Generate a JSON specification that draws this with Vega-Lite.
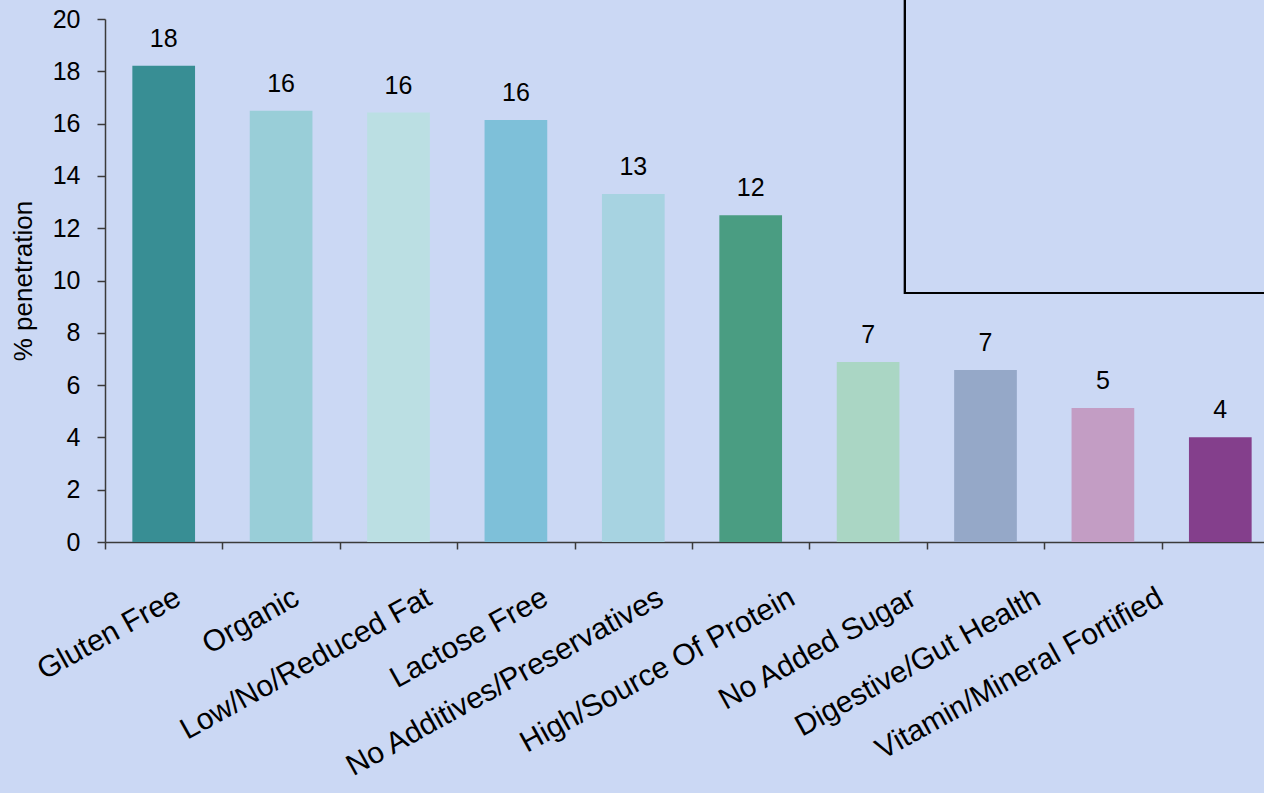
{
  "$schema": "https://vega.github.io/schema/vega-lite/v6.json",
  "autosize": {"type": "none"},
  "padding": {"left": 105, "top": 19, "right": 0, "bottom": 251},
  "width": 1159,
  "height": 523,
  "background": "#CBD8F4",
  "config": {
    "font": "Liberation Sans",
    "view": {"stroke": null},
    "axis": {"labelFont": "Liberation Sans", "titleFont": "Liberation Sans", "labelColor": "#000000", "titleColor": "#000000"}
  },
  "data": {
    "values": [
      {"claim": "Gluten Free", "value": 18.21, "label": "18", "color": "#388E94"},
      {"claim": "Organic", "value": 16.49, "label": "16", "color": "#99CED8"},
      {"claim": "Low/No/Reduced Fat", "value": 16.42, "label": "16", "color": "#BBDFE3"},
      {"claim": "Lactose Free", "value": 16.14, "label": "16", "color": "#7EC0D9"},
      {"claim": "No Additives/Preservatives", "value": 13.31, "label": "13", "color": "#A7D3E1"},
      {"claim": "High/Source Of Protein", "value": 12.5, "label": "12", "color": "#4A9D82"},
      {"claim": "No Added Sugar", "value": 6.88, "label": "7", "color": "#AAD6C4"},
      {"claim": "Digestive/Gut Health", "value": 6.58, "label": "7", "color": "#95A8C8"},
      {"claim": "Vitamin/Mineral Fortified", "value": 5.12, "label": "5", "color": "#C39DC4"},
      {"claim": "", "value": 4.01, "label": "4", "color": "#843F8C"}
    ]
  },
  "layer": [
    {
      "encoding": {
        "x": {
          "field": "claim", "type": "nominal", "sort": null,
          "scale": {"range": [0, 1174], "paddingInner": 0, "paddingOuter": 0},
          "axis": {
            "title": null,
            "domainColor": "#3a3a3a", "domainWidth": 1.5,
            "tickColor": "#3a3a3a", "tickWidth": 1.5, "tickSize": 7,
            "tickBand": "extent",
            "labelAngle": -29, "labelAlign": "right", "labelBaseline": "top",
            "labelFontSize": 30, "labelPadding": 33,
            "labelOffset": {
              "condition": [
                {"test": "datum.value === 'Gluten Free'", "value": 7},
                {"test": "datum.value === 'Organic'", "value": 8},
                {"test": "datum.value === 'Low/No/Reduced Fat'", "value": 23},
                {"test": "datum.value === 'Lactose Free'", "value": 22},
                {"test": "datum.value === 'No Additives/Preservatives'", "value": 20},
                {"test": "datum.value === 'High/Source Of Protein'", "value": 34},
                {"test": "datum.value === 'No Added Sugar'", "value": 38},
                {"test": "datum.value === 'Digestive/Gut Health'", "value": 45},
                {"test": "datum.value === 'Vitamin/Mineral Fortified'", "value": 50}
              ],
              "value": 30
            },
            "labelOverlap": false, "labelLimit": 500
          }
        }
      },
      "layer": [
        {
          "mark": {"type": "bar", "width": {"band": 0.534}},
          "encoding": {
            "y": {
              "field": "value", "type": "quantitative",
              "scale": {"domain": [0, 20], "nice": false},
              "axis": {
                "title": "% penetration", "titleFontSize": 26, "titleFontWeight": "normal", "titlePadding": 16,
                "values": [0, 2, 4, 6, 8, 10, 12, 14, 16, 18, 20],
                "grid": false,
                "domainColor": "#3a3a3a", "domainWidth": 1.5,
                "tickColor": "#3a3a3a", "tickWidth": 1.5, "tickSize": 8,
                "labelFontSize": 25, "labelPadding": 17
              }
            },
            "color": {"field": "color", "type": "nominal", "scale": null, "legend": null}
          }
        },
        {
          "mark": {"type": "text", "fontSize": 25, "baseline": "alphabetic", "dy": -19, "color": "#000000"},
          "encoding": {
            "y": {"field": "value", "type": "quantitative"},
            "text": {"field": "label", "type": "nominal"}
          }
        }
      ]
    },
    {
      "mark": {"type": "rect", "fill": "transparent", "stroke": "#000000", "strokeWidth": 2},
      "encoding": {
        "x": {"datum": 6.814, "type": "quantitative", "scale": {"domain": [0, 10], "range": [0, 1174]}, "axis": null},
        "x2": {"datum": 10},
        "y": {"datum": 9.52, "type": "quantitative"},
        "y2": {"datum": 21}
      }
    }
  ],
  "resolve": {"scale": {"x": "independent"}, "axis": {"x": "independent"}}
}
